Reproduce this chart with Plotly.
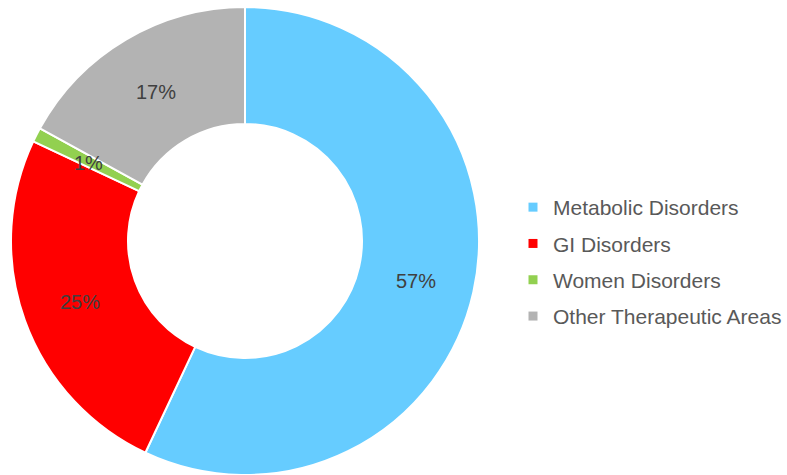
import math
import plotly.graph_objects as go

categories = ["Metabolic Disorders", "GI Disorders", "Women Disorders", "Other Therapeutic Areas"]
values = [57, 25, 1, 17]
colors = ["#66CCFF", "#FF0000", "#92D050", "#B3B3B3"]

W, H = 787, 475
cx, cy, R = 245, 241, 234
hole = 0.5

fig = go.Figure()
fig.add_trace(go.Pie(
    labels=categories, values=values, sort=False, direction="clockwise", rotation=0,
    hole=hole, marker=dict(colors=colors, line=dict(color="white", width=2)),
    textinfo="none", showlegend=False, hoverinfo="label+percent",
    domain=dict(x=[(cx - R) / W, (cx + R) / W], y=[1 - (cy + R) / H, 1 - (cy - R) / H]),
))

# labels at the middle of each ring segment, computed from the data
total = sum(values)
cum = 0
rmid = R * (1 + hole) / 2
for v in values:
    mid = (cum + v / 2) / total * 2 * math.pi
    cum += v
    px = cx + rmid * math.sin(mid)
    py = cy - rmid * math.cos(mid) + 2
    fig.add_annotation(x=px / W, y=1 - py / H, xref="paper", yref="paper",
                       xanchor="center", yanchor="middle",
                       text=f"{round(v / total * 100)}%", showarrow=False,
                       font=dict(size=20, color="#404040", family="Liberation Sans, Arial"))

# legend entries
for i, (c, col) in enumerate(zip(categories, colors)):
    fig.add_trace(go.Scatter(x=[None], y=[None], mode="markers", name=c,
                             legendgroup=f"g{i}",
                             marker=dict(symbol="square", size=9, color=col)))

fig.update_layout(
    width=W, height=H, margin=dict(l=0, r=0, t=0, b=0),
    paper_bgcolor="white", plot_bgcolor="white",
    xaxis=dict(visible=False), yaxis=dict(visible=False),
    legend=dict(x=513 / W, y=1 - 187 / H, xanchor="left", yanchor="top",
                font=dict(size=21, color="#595959", family="Liberation Sans, Arial"),
                tracegroupgap=6, bgcolor="rgba(0,0,0,0)"),
    showlegend=True,
)

fig.write_html("out.html")
